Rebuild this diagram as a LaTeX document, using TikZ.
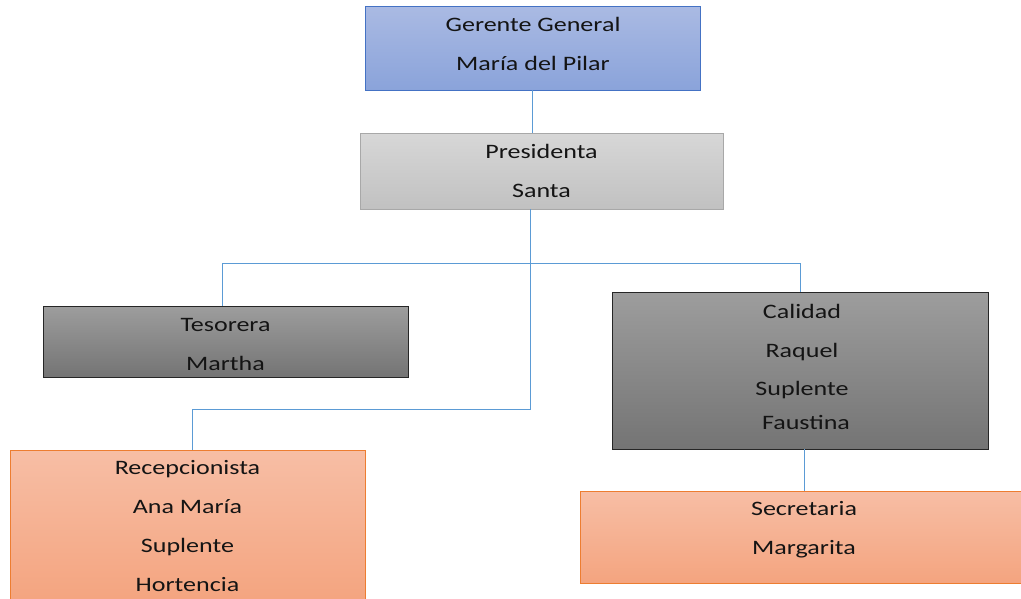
\documentclass[tikz,border=0pt]{standalone}
\usepackage{fontspec}
\newfontfamily\orgfont{Carlito}[FakeStretch=1.27]
\usepackage{xcolor}
\usepackage{tikz}
\definecolor{conncol}{HTML}{5B9BD5}
\definecolor{txtcol}{HTML}{141414}
\definecolor{bluetop}{HTML}{AABAE3}
\definecolor{bluebot}{HTML}{8AA3DA}
\definecolor{blueline}{HTML}{4472C4}
\definecolor{greytop}{HTML}{D7D7D7}
\definecolor{greybot}{HTML}{C1C1C1}
\definecolor{greyline}{HTML}{A8A8A8}
\definecolor{darktop}{HTML}{9D9D9D}
\definecolor{darkbot}{HTML}{747474}
\definecolor{darkline}{HTML}{262626}
\definecolor{orangetop}{HTML}{F7BEA5}
\definecolor{orangebot}{HTML}{F4A47F}
\definecolor{orangeline}{HTML}{ED7D31}

\begin{document}
\begin{tikzpicture}[x=1pt,y=-1pt,
                box/.style={rectangle,inner sep=0pt},
                lbl/.style={inner sep=0pt,align=center,text=txtcol,
                  font=\orgfont\fontsize{20.5}{39}\selectfont},
                bluebox/.style={box,draw=blueline,top color=bluetop,bottom color=bluebot},
                greybox/.style={box,draw=greyline,top color=greytop,bottom color=greybot},
                darkbox/.style={box,draw=darkline,top color=darktop,bottom color=darkbot},
                orangebox/.style={box,draw=orangeline,top color=orangetop,bottom color=orangebot},
                conn/.style={draw=conncol,line width=0.9pt}]
                \useasboundingbox (0,0) rectangle (1021,598);
                \node[bluebox,minimum width=335pt,minimum height=84pt] (ger) at (532.5,48) {};
                \node[greybox,minimum width=363pt,minimum height=76pt] (pres) at (541.5,171) {};
                \node[darkbox,minimum width=365pt,minimum height=71pt] (tes) at (225.5,341.5) {};
                \node[darkbox,minimum width=376pt,minimum height=157pt] (cal) at (800,370.5) {};
                \node[orangebox,minimum width=355pt,minimum height=153pt] (rec) at (187.5,526.5) {};
                \node[orangebox,minimum width=448pt,minimum height=92pt] (sec) at (804,537) {};
                \node[lbl] (gertxt) at (533,43.5) {Gerente General\\María del Pilar};
                \node[lbl] (prestxt) at (541.5,170.5) {Presidenta\\Santa};
                \node[lbl] (testxt) at (225.5,344.5) {Tesorera\\Martha};
                \node[lbl] (caltxt) at (802,366.5) {Calidad\\Raquel\\[-1pt]Suplente\\[-5pt]\hspace{8pt}Faustina};
                \node[lbl] (rectxt) at (187.5,526.5) {Recepcionista\\Ana María\\Suplente\\Hortencia};
                \node[lbl] (sectxt) at (804,529.5) {Secretaria\\Margarita};
                \coordinate (b1) at (222,263);
                \coordinate (b2) at (800,263);
                \coordinate (b3) at (192,409);
                \coordinate (b4) at (530,409);
                \draw[conn] (ger.south) -- (ger.south |- pres.north);
                \draw[conn] (b1 |- tes.north) -- (b1) -- (b2) -- (b2 |- cal.north);
                \draw[conn] (pres.south -| b4) -- (b4) -- (b3) -- (b3 |- rec.north);
                \draw[conn] (sec.north) -- (sec.north |- cal.south);
            \end{tikzpicture}
\end{document}
